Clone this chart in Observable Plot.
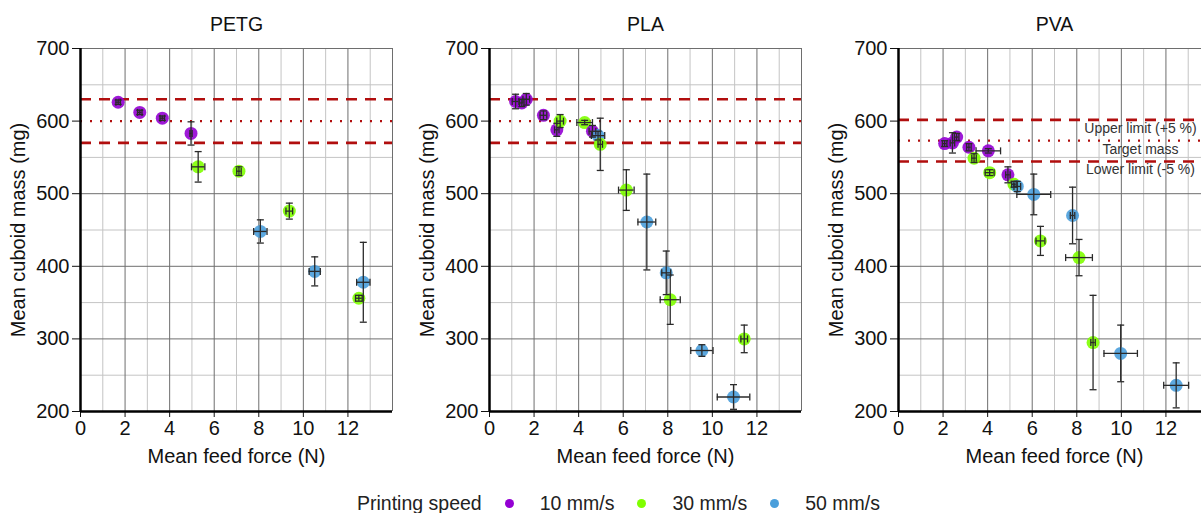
<!DOCTYPE html>
<html>
<head>
<meta charset="utf-8">
<script src="https://cdn.jsdelivr.net/npm/d3@7"></script>
<script src="https://cdn.jsdelivr.net/npm/@observablehq/plot@0.6"></script>
<style>
  html, body { margin: 0; padding: 0; background: #fff; }
  #wrap { position: relative; width: 1201px; height: 513px; overflow: hidden; font-family: "Liberation Sans", Arial, sans-serif; }
  #row { display: flex; flex-direction: row; width: 1240px; }
  #row > svg, #row > figure { flex: 0 0 auto; margin: 0; }
  #legend { position: absolute; left: 357px; top: 493px; height: 20px; line-height: 20px; font-size: 19.5px; color: #222; display: flex; align-items: center; white-space: nowrap; }
  #legend .dot { width: 9px; height: 9px; border-radius: 50%; display: inline-block; margin-left: 23px; margin-right: 26px; }
</style>
</head>
<body>
<div id="wrap">
  <div id="row"></div>
  <div id="legend"></div>
</div>
<script>
// ---- data ----
const materials = ["PETG", "PLA", "PVA"];
const targetMass = [600, 600, 573];
const speeds = ["10 mm/s", "30 mm/s", "50 mm/s"];
const speedColors = ["#9400D3", "#7FFF00", "#4A9FDB"];

const xTicks = [0, 2, 4, 6, 8, 10, 12];
const yTicks = [200, 300, 400, 500, 600, 700];
const xGridMajor = [2, 4, 6, 8, 10, 12, 14];
const xGridMinor = [1, 3, 5, 7, 9, 11, 13];
const yGridMajor = [300, 400, 500, 700];
const yGridMinor = [250, 350, 450, 550, 650];

const petgSpeed    = [10, 10, 10, 10, 30, 30, 50, 30, 50, 30, 50];
const petgForce    = [1.69, 2.66, 3.67, 4.96, 5.28, 7.11, 8.07, 9.37, 10.51, 12.49, 12.69];
const petgMass     = [626, 612, 604, 583, 537, 531, 448, 476, 393, 356, 378];
const petgForceErr = [0.1, 0.1, 0.1, 0.05, 0.3, 0.1, 0.3, 0.15, 0.25, 0.15, 0.3];
const petgMassErr  = [3, 3, 3, 16, 21, 6, 16, 11, 20, 4, 55];

const plaSpeed    = [10, 10, 10, 10, 10, 30, 30, 10, 50, 30, 30, 50, 50, 30, 50, 30, 50];
const plaForce    = [1.17, 1.45, 1.65, 2.42, 3.02, 3.17, 4.27, 4.62, 4.87, 4.97, 6.14, 7.06, 7.93, 8.11, 9.53, 11.43, 10.95];
const plaMass     = [627, 625, 630, 608, 588, 600, 598, 586, 580, 568, 505, 461, 391, 354, 284, 300, 220];
const plaForceErr = [0.15, 0.1, 0.15, 0.15, 0.1, 0.15, 0.35, 0.15, 0.3, 0.1, 0.35, 0.4, 0.2, 0.45, 0.5, 0.15, 0.73];
const plaMassErr  = [10, 5, 8, 6, 9, 9, 3, 8, 6, 36, 28, 66, 30, 34, 8, 19, 17];

const pvaSpeed    = [10, 10, 10, 10, 30, 10, 30, 10, 30, 50, 50, 30, 50, 30, 30, 50, 50];
const pvaForce    = [2.07, 2.42, 2.61, 3.16, 3.39, 4.03, 4.09, 4.91, 5.18, 5.33, 6.07, 6.37, 7.81, 8.10, 8.73, 9.97, 12.46];
const pvaMass     = [569, 570, 578, 564, 549, 559, 529, 526, 513, 510, 499, 435, 470, 412, 295, 280, 236];
const pvaForceErr = [0.1, 0.1, 0.1, 0.1, 0.1, 0.55, 0.2, 0.1, 0.1, 0.15, 0.76, 0.2, 0.1, 0.6, 0.1, 0.75, 0.56];
const pvaMassErr  = [4, 14, 5, 5, 6, 3, 4, 11, 4, 7, 28, 20, 39, 25, 65, 39, 31];

const limitNotes = ["Upper limit (+5 %)", "Target mass", "Lower limit (-5 %)"];

function table(speed, force, mass, fErr, mErr) {
  return speed.map((s, i) => ({
    speed: s + " mm/s", force: force[i], mass: mass[i], fErr: fErr[i], mErr: mErr[i]
  }));
}
const datasets = [
  table(petgSpeed, petgForce, petgMass, petgForceErr, petgMassErr),
  table(plaSpeed, plaForce, plaMass, plaForceErr, plaMassErr),
  table(pvaSpeed, pvaForce, pvaMass, pvaForceErr, pvaMassErr)
];

// cap symbols for error bars
const capH = { draw(ctx) { ctx.moveTo(-3.5, 0); ctx.lineTo(3.5, 0); } };
const capV = { draw(ctx) { ctx.moveTo(0, -3.5); ctx.lineTo(0, 3.5); } };

const errColor = "#2a2a2a";
const limitRed = "#B10E0E";

function panel(k) {
  const data = datasets[k];
  const target = targetMass[k];
  const upper = target * 1.05, lower = target * 0.95;
  const marks = [
    Plot.ruleX(xGridMinor, {stroke: "#c4c4c4", strokeWidth: 1}),
    Plot.ruleY(yGridMinor, {stroke: "#c4c4c4", strokeWidth: 1}),
    Plot.ruleX(xGridMajor, {stroke: "#6e6e6e", strokeWidth: 1}),
    Plot.ruleY(yGridMajor, {stroke: "#6e6e6e", strokeWidth: 1}),
    Plot.ruleY([upper, lower], {stroke: limitRed, strokeWidth: 2.6, strokeDasharray: "11,8"}),
    Plot.ruleY([target], {stroke: limitRed, strokeWidth: 2.2, strokeDasharray: "2,8"}),
    Plot.ruleX([0], {stroke: "#000", strokeWidth: 2.5}),
    Plot.ruleY([200], {stroke: "#000", strokeWidth: 2.5}),
    Plot.dot(data, {x: "force", y: "mass", fill: "speed", r: 6.5, fillOpacity: 0.9}),
    Plot.ruleX(data, {x: "force", y1: d => d.mass - d.mErr, y2: d => d.mass + d.mErr, stroke: errColor, strokeWidth: 1.3}),
    Plot.ruleY(data, {y: "mass", x1: d => d.force - d.fErr, x2: d => d.force + d.fErr, stroke: errColor, strokeWidth: 1.3}),
    Plot.dot(data, {x: "force", y: d => d.mass - d.mErr, symbol: capH, fill: "none", stroke: errColor, strokeWidth: 1.3}),
    Plot.dot(data, {x: "force", y: d => d.mass + d.mErr, symbol: capH, fill: "none", stroke: errColor, strokeWidth: 1.3}),
    Plot.dot(data, {x: d => d.force - d.fErr, y: "mass", symbol: capV, fill: "none", stroke: errColor, strokeWidth: 1.3}),
    Plot.dot(data, {x: d => d.force + d.fErr, y: "mass", symbol: capV, fill: "none", stroke: errColor, strokeWidth: 1.3}),
    Plot.text([materials[k]], {frameAnchor: "top", dy: -24, lineAnchor: "middle", fontSize: 19.5, fill: "#111"})
  ];
  if (k === 2) {
    marks.push(Plot.text(limitNotes, {
      y: [upper, target, lower],
      frameAnchor: "right", textAnchor: "middle", dx: -70, dy: 8.5,
      lineAnchor: "middle", fontSize: 14, fill: "#333"
    }));
  }
  return Plot.plot({
    width: 409, height: 470,
    marginLeft: 80, marginRight: 17, marginTop: 48, marginBottom: 59,
    style: {fontFamily: "'Liberation Sans', Arial, sans-serif", fontSize: "20px", color: "#111", background: "transparent", overflow: "visible"},
    x: {domain: [0, 14], ticks: xTicks, tickSize: 6, tickPadding: 3, label: "Mean feed force (N)", labelAnchor: "center", labelArrow: "none", labelOffset: 51},
    y: {domain: [200, 700], ticks: yTicks, tickSize: 8, tickPadding: 3, label: "Mean cuboid mass (mg)", labelAnchor: "center", labelArrow: "none", labelOffset: 70},
    color: {domain: speeds, range: speedColors},
    marks
  });
}

const row = document.getElementById("row");
for (let k = 0; k < materials.length; k++) row.appendChild(panel(k));

// legend
const legend = document.getElementById("legend");
const head = document.createElement("span");
head.textContent = "Printing speed";
legend.appendChild(head);
speeds.forEach((s, i) => {
  const dot = document.createElement("span");
  dot.className = "dot";
  dot.style.background = speedColors[i];
  legend.appendChild(dot);
  const lab = document.createElement("span");
  lab.textContent = s;
  legend.appendChild(lab);
});
</script>
</body>
</html>
